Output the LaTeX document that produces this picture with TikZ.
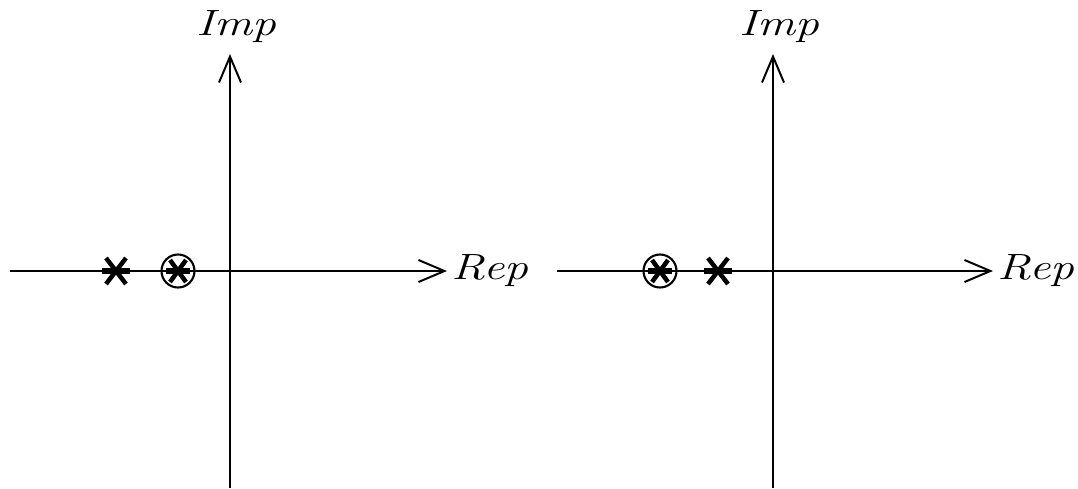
\documentclass[tikz,border=0pt]{standalone}
\usepackage{fontspec}
\usepackage{graphicx}
\usetikzlibrary{arrows.meta}

\tikzset{
  axis/.style={line width=1.4pt,-{Straight Barb[length=6.5mm,width=5.5mm]}},
  lbl/.style={font=\fontsize{26}{30}\selectfont\itshape},
  xarm/.style={line width=3.2pt},
  xbar/.style={line width=4.8pt},
  ring/.style={line width=1.5pt},
}
% wide italic label
\newcommand{\axlabel}[1]{\scalebox{1.3}[1]{#1}}
% pole: thick cross sitting on the axis
\newcommand{\polecross}[1]{%
  \draw[xarm,shift={(#1)}] (-10,-13)--(10,13) (-10,13)--(10,-13);
  \draw[xbar,shift={(#1)}] (-14,0)--(14,0);}
% pole and zero at the same place
\newcommand{\polezero}[1]{%
  \draw[ring,shift={(#1)}] (0,0) circle (16.5);
  \draw[xarm,shift={(#1)}] (-8,-11)--(8,11) (-8,11)--(8,-11);
  \draw[xbar,shift={(#1)}] (-12,0)--(12,0);}

\begin{document}
\begin{tikzpicture}[x=0.025cm,y=-0.025cm]
\useasboundingbox (0,0) rectangle (1078,488);
% left plane
\coordinate (L1) at (10,271); \coordinate (R1) at (447,271);
\coordinate (B1) at (230,488); \coordinate (T1) at (230,54);
\draw[axis] (L1)--(R1);
\draw[axis] (B1)--(T1);
\node[lbl,right] (re1) at (R1) {\axlabel{Rep}};
\node[lbl,anchor=base] (im1) at (236,35) {\axlabel{Imp}};
\coordinate (P1) at (116,271); \coordinate (Z1) at (178,271);
\polecross{P1}
\polezero{Z1}
% right plane
\coordinate (L2) at (557,271); \coordinate (R2) at (993,271);
\coordinate (B2) at (773,488); \coordinate (T2) at (773,54);
\draw[axis] (L2)--(R2);
\draw[axis] (B2)--(T2);
\node[lbl,right] (re2) at (R2) {\axlabel{Rep}};
\node[lbl,anchor=base] (im2) at (779,35) {\axlabel{Imp}};
\coordinate (Z2) at (660,271); \coordinate (P2) at (718,271);
\polezero{Z2}
\polecross{P2}
\end{tikzpicture}
\end{document}
